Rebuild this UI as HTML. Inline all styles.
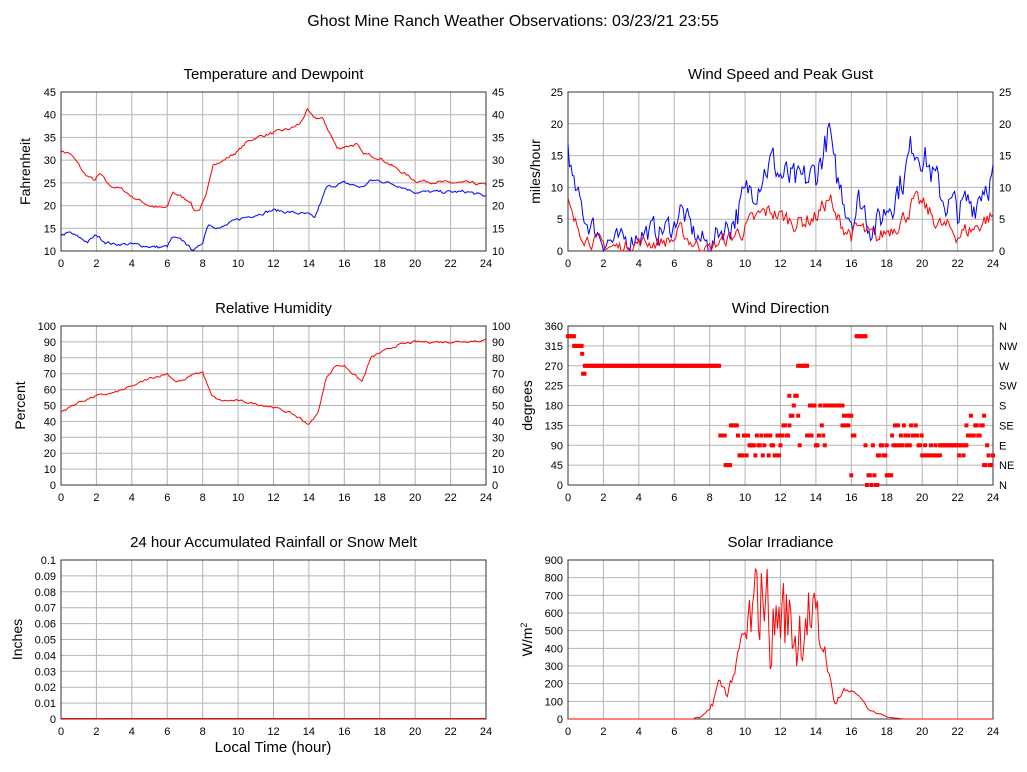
<!DOCTYPE html>
<html><head><meta charset="utf-8"><style>
body{margin:0;background:#fff;}
svg{display:block;font-family:"Liberation Sans",sans-serif;}
</style></head><body>
<svg id="s" width="1027" height="772" xmlns="http://www.w3.org/2000/svg"></svg>
<script>
const S=document.getElementById('s');let h='';
let seed=7;function rnd(){seed=(seed*16807)%2147483647;return seed/2147483647;}
function txt(x,y,t,o){o=o||{};h+=`<text x="${x}" y="${y}" font-size="${o.fs||11}" text-anchor="${o.a||'middle'}" ${o.tr?'transform="'+o.tr+'"':''} fill="#000">${t}</text>`;}
function interp(k,x){for(let i=0;i<k.length-1;i++){if(x>=k[i][0]&&x<=k[i+1][0]){const t=(x-k[i][0])/(k[i+1][0]-k[i][0]);return k[i][1]+t*(k[i+1][1]-k[i][1]);}}return k[k.length-1][1];}
function panel(P){const{x0,y0,w,hh,ymin,ymax,ystep,title,ylab,rlabels,llabels}=P;
 txt(x0+w/2,y0-13,title,{fs:15});
 const n=Math.round((ymax-ymin)/ystep);
 for(let i=0;i<=n;i++){const y=y0+hh-i*hh/n;h+=`<line x1="${x0}" x2="${x0+w}" y1="${y}" y2="${y}" stroke="#b4b4b4"/>`;
  const lv=llabels?llabels[i]:+(ymin+i*ystep).toFixed(2);txt(x0-5,y+4,lv,{a:'end'});
  if(rlabels!==null){const rv=rlabels?rlabels[i]:lv;txt(x0+w+6,y+4,rv,{a:'start'});}}
 for(let i=0;i<=12;i++){const x=x0+i*w/12;h+=`<line x1="${x}" x2="${x}" y1="${y0}" y2="${y0+hh}" stroke="#b4b4b4"/>`;txt(x,y0+hh+16,i*2);}
 h+=`<rect x="${x0}" y="${y0}" width="${w}" height="${hh}" fill="none" stroke="#333"/>`;
 txt(x0-(P.yo||33),y0+hh/2,ylab,{fs:14,tr:`rotate(-90 ${x0-(P.yo||33)} ${y0+hh/2})`});
 P.X=t=>x0+t/24*w;P.Y=v=>y0+hh-(v-ymin)/(ymax-ymin)*hh;return P;}
function line(P,k,col,noise,N,min){N=N||600;let pts=[];let prev=0;for(let i=0;i<=N;i++){const t=i*24/N;let v=interp(k,t);if(noise){const nz=noise(t);prev=prev*0.5+(rnd()-0.5)*nz;v+=prev;}if(min!==undefined)v=Math.max(min,v);if(P.ymax!==undefined)v=Math.min(P.ymax,v);pts.push(P.X(t).toFixed(1)+','+P.Y(v).toFixed(1));}
 h+=`<polyline fill="none" stroke="${col}" stroke-width="1" points="${pts.join(' ')}"/>`;}
txt(513,26,'Ghost Mine Ranch Weather Observations: 03/23/21 23:55',{fs:16});
let A=panel({x0:61,y0:92,w:425,hh:159,ymin:10,ymax:45,ystep:5,title:'Temperature and Dewpoint',ylab:'Fahrenheit',yo:31});
line(A,[[0,32],[0.5,31.5],[1,29],[1.3,27],[1.9,25.5],[2.2,27],[2.7,24.5],[3.5,23.5],[4,22],[4.5,21],[5,20],[5.5,19.5],[6,19.5],[6.3,23],[7,21.5],[7.3,21],[7.5,19],[7.8,19],[8.2,22],[8.6,29.5],[9,29.5],[10,32],[10.5,34],[11,35],[12,36],[13,37],[13.5,38],[13.9,41],[14.2,39.5],[14.8,39],[15.3,35],[15.6,32.5],[16,33],[16.7,33.5],[17,31.5],[17.5,31],[18,30.5],[19,28],[20,25.5],[22,25],[23,25],[24,24.5]],'#f00',t=>0.6,288);
line(A,[[0,13.5],[0.5,14],[1,13],[1.5,12],[2,13.5],[2.5,12],[3,11.5],[4,11.5],[5,11],[5.5,10.8],[6,11],[6.3,13],[7,12],[7.3,10.5],[7.7,10.5],[8,12],[8.3,16],[9,15],[10,17],[11,18],[12,19],[13,18.5],[14,18],[14.3,17],[14.6,20],[15,24],[16,25],[17,24],[17.5,25.5],[18,25.5],[19,24.5],[20,23],[22,23],[23,23],[24,22]],'#00f',t=>0.6,288);
let B=panel({x0:568,y0:92,w:425,hh:159,ymin:0,ymax:25,ystep:5,title:'Wind Speed and Peak Gust',ylab:'miles/hour',yo:28});
const gk=[[0,17],[0.3,10],[1,5],[2,2],[3,1],[4,3],[5,3],[6,4],[6.3,7],[7,3],[8,0.5],[8.5,3],[9,4],[10,8],[11,13],[11.5,14],[12,12],[13,10],[14,12],[14.8,19],[15,12],[16,6],[16.5,8],[17,5],[17.5,4],[18,7],[19,12],[19.5,17],[20,16],[21,9],[22,6],[23,8],[23.5,11],[24,12]];
line(B,gk,'#00f',t=>t>9?5:3.5,288,0);
line(B,gk.map(p=>[p[0],p[1]*0.45]),'#f00',t=>t>9?2.5:2,288,0);
let C=panel({x0:61,y0:326,w:425,hh:159,ymin:0,ymax:100,ystep:10,title:'Relative Humidity',ylab:'Percent',yo:36});
line(C,[[0,46],[1,52],[2,56],[3,58],[4,62],[5,67],[6,70],[6.5,65],[7,66],[7.5,70],[8,71],[8.5,56],[9,53],[10,53],[11,51],[12,49],[13,45],[13.5,42],[14,38],[14.5,45],[15,68],[15.5,75],[16,75],[16.5,70],[17,65],[17.5,80],[18,83],[19,88],[20,90],[22,90],[24,91]],'#f00',t=>1.2,288);
let D=panel({x0:568,y0:326,w:425,hh:159,ymin:0,ymax:360,ystep:45,title:'Wind Direction',ylab:'degrees',yo:36,rlabels:['N','NE','E','SE','S','SW','W','NW','N']});
const seg=[[0,0.35,[337]],[0.35,0.8,[315]],[0.8,0.85,[297]],[0.85,0.95,[252]],[0.95,8.6,[270]],[8.6,8.9,[112]],[8.9,9.2,[45]],[9.2,9.6,[135]],[9.6,10,[90,112,67]],[10,12,[90,112,90,67]],[12,12.5,[135,112]],[12.5,13,[180,202,45,157]],[13,13.5,[112,270,90]],[13.5,14.5,[112,135,180,90]],[14.5,15.5,[180]],[15.5,16,[157,135]],[16,16.2,[22,112]],[16.3,16.8,[337]],[16.8,17.5,[22,67,90,0]],[17.5,18,[90,67]],[18,18.3,[45,22]],[18.3,20,[112,90,135]],[20,21,[90,67]],[21,22,[90]],[22,22.5,[67,90]],[22.5,23.5,[135,157,112]],[23.5,24,[67,45,90]]];
for(const [a,b,vs] of seg){for(let t=a;t<b;t+=0.0833){const v=vs[Math.floor(rnd()*vs.length)];h+=`<rect x="${(D.X(t)-2).toFixed(1)}" y="${(D.Y(v)-2).toFixed(1)}" width="4" height="4" fill="#f00"/>`;}}
let E=panel({x0:61,y0:560,w:425,hh:159,ymin:0,ymax:0.1,ystep:0.01,title:'24 hour Accumulated Rainfall or Snow Melt',ylab:'Inches',rlabels:null,yo:39});
h+=`<line x1="61" x2="486" y1="718.5" y2="718.5" stroke="#f00"/>`;
txt(273,752,'Local Time (hour)',{fs:15});
let F=panel({x0:568,y0:560,w:425,hh:159,ymin:0,ymax:900,ystep:100,title:'Solar Irradiance',ylab:'W/m<tspan font-size="9" dy="-5">2</tspan>',rlabels:null,yo:36});
line(F,[[0,0],[7,0],[7.5,10],[8,50],[8.5,200],[9,150],[9.5,300],[9.8,450],[10.3,500],[10.8,600],[11,800],[11.5,500],[12,600],[12.5,550],[13,500],[13.5,700],[14,350],[14.5,400],[15,100],[15.5,150],[16,170],[16.5,120],[17,50],[18,10],[19,0],[24,0]],'#f00',t=>(t>10&&t<14.2)?500:(t>8&&t<16?60:(t>7&&t<18?10:0)),288,0);
S.innerHTML=h;
</script>
</body></html>
